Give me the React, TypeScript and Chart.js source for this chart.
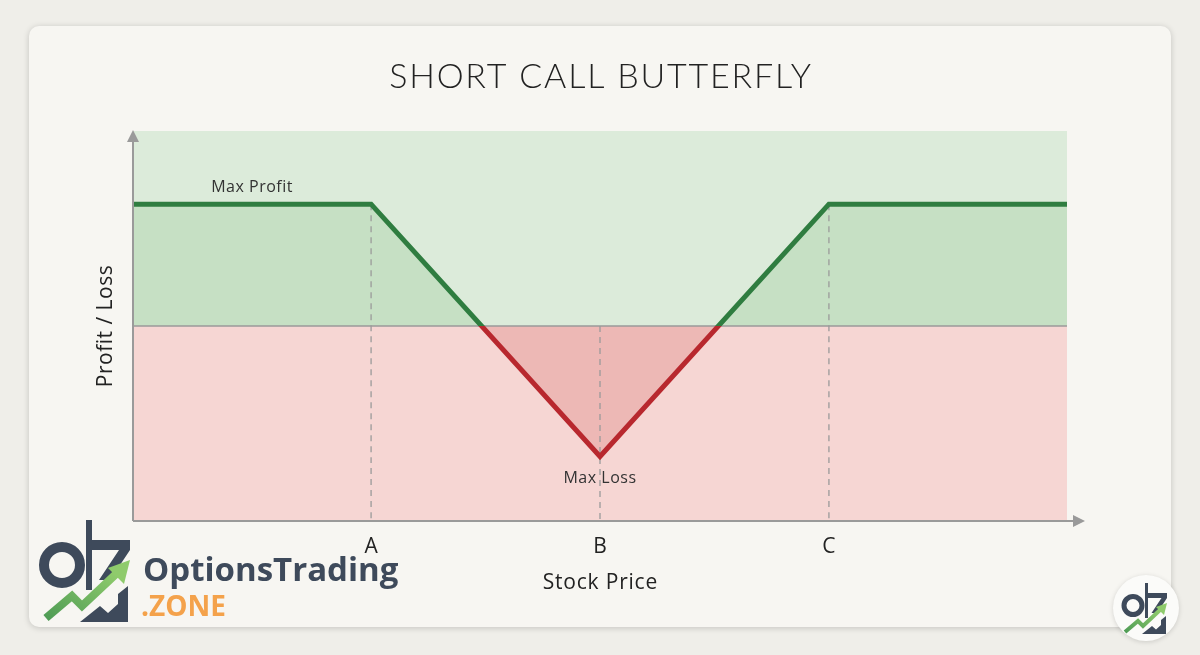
import React, { useEffect, useRef } from "react";
import { Chart, registerables } from "chart.js";

Chart.register(...registerables);

// ---- data ----
const strikeLabels = ["A", "B", "C"];
const strikes = [100, 200, 300];
const priceRange = [-4, 404];
const payoffPrices = [-4, 100, 200, 300, 404];
const payoffValues = [1, 1, -1.07, 1, 1];
const pnlRange = [-1.6, 1.6];
const maxProfit = 1;
const maxLoss = -1.07;

const chartTitle = "SHORT CALL BUTTERFLY";
const xAxisTitle = "Stock Price";
const yAxisTitle = "Profit / Loss";
const maxProfitLabel = "Max Profit";
const maxLossLabel = "Max Loss";

// ---- styles ----
const GREEN = "#2f7d40";
const RED = "#b8282e";
const BG_GREEN = "#dcebda";
const BG_PINK = "#f6d6d3";
const FILL_GREEN = "#c6e0c4";
const FILL_PINK = "#edb8b5";
const AXIS = "#9a9a9a";
const TEXT = "#222";
const FONT = "Lato, 'Open Sans', 'DejaVu Sans', sans-serif";
const FONT2 = "'Open Sans', Lato, 'DejaVu Sans', sans-serif";
const SLATE = "#3e4a5b";
const ORANGE = "#f4a24b";

const decorPlugin = {
  id: "decor",
  beforeDraw(chart: any) {
    const { ctx, chartArea: a, scales } = chart;
    const y0 = scales.y.getPixelForValue(0);
    ctx.save();
    ctx.fillStyle = BG_GREEN;
    ctx.fillRect(a.left, a.top, a.right - a.left, y0 - a.top);
    ctx.fillStyle = BG_PINK;
    ctx.fillRect(a.left, y0, a.right - a.left, a.bottom - y0);
    ctx.restore();
  },
  beforeDatasetsDraw(chart: any) {
    const { ctx, chartArea: a, scales } = chart;
    const x = scales.x, y = scales.y;
    const y0 = y.getPixelForValue(0);
    ctx.save();
    ctx.strokeStyle = AXIS;
    ctx.lineWidth = 1.5;
    ctx.beginPath();
    ctx.moveTo(a.left, y0);
    ctx.lineTo(a.right, y0);
    ctx.stroke();
    ctx.setLineDash([6, 5]);
    ctx.lineWidth = 1.3;
    strikes.forEach((s, i) => {
      const px = x.getPixelForValue(s);
      const top = i === 1 ? y0 : y.getPixelForValue(maxProfit);
      ctx.beginPath();
      ctx.moveTo(px, top);
      ctx.lineTo(px, a.bottom);
      ctx.stroke();
    });
    ctx.restore();
  },
  afterDatasetsDraw(chart: any) {
    const { ctx, chartArea: a, scales } = chart;
    const x = scales.x, y = scales.y;
    ctx.save();
    ctx.strokeStyle = AXIS;
    ctx.fillStyle = AXIS;
    ctx.lineWidth = 2;
    ctx.beginPath();
    ctx.moveTo(a.left, a.bottom);
    ctx.lineTo(a.left, a.top + 8);
    ctx.moveTo(a.left, a.bottom);
    ctx.lineTo(a.right + 10, a.bottom);
    ctx.stroke();
    ctx.beginPath();
    ctx.moveTo(a.left, a.top - 1);
    ctx.lineTo(a.left - 6, a.top + 11);
    ctx.lineTo(a.left + 6, a.top + 11);
    ctx.closePath();
    ctx.fill();
    ctx.beginPath();
    ctx.moveTo(a.right + 18, a.bottom);
    ctx.lineTo(a.right + 6, a.bottom - 6);
    ctx.lineTo(a.right + 6, a.bottom + 6);
    ctx.closePath();
    ctx.fill();

    ctx.fillStyle = TEXT;
    ctx.textAlign = "center";
    ctx.textBaseline = "alphabetic";
    ctx.font = `300 34px ${FONT}`;
    (ctx as any).letterSpacing = "1.8px";
    ctx.fillText(chartTitle, 601, 88);

    ctx.font = `400 21px ${FONT2}`;
    (ctx as any).letterSpacing = "0px";
    strikes.forEach((s, i) => {
      ctx.fillText(strikeLabels[i], x.getPixelForValue(s), a.bottom + 32);
    });
    (ctx as any).letterSpacing = "0.8px";
    ctx.fillText(xAxisTitle, x.getPixelForValue(strikes[1]) + 0.4, a.bottom + 68);

    (ctx as any).letterSpacing = "0.5px";
    ctx.save();
    ctx.translate(a.left - 21, (a.top + a.bottom) / 2);
    ctx.rotate(-Math.PI / 2);
    ctx.fillText(yAxisTitle, 0, 0);
    ctx.restore();

    ctx.font = `400 16px ${FONT2}`;
    ctx.fillStyle = "#333";
    ctx.fillText(maxProfitLabel, x.getPixelForValue(strikes[0]) - 119, y.getPixelForValue(maxProfit) - 12);
    ctx.fillText(maxLossLabel, x.getPixelForValue(strikes[1]), y.getPixelForValue(maxLoss) + 27);
    ctx.restore();
  },
};

function Icon({ x, y, s }: { x: number; y: number; s: number }) {
  return (
    <g transform={`translate(${x},${y}) scale(${s})`}>
      <defs>
        <linearGradient id={`ga${s}`} x1="0" y1="1" x2="1" y2="0">
          <stop offset="0" stopColor="#4f9c55" />
          <stop offset="1" stopColor="#8fcb6c" />
        </linearGradient>
      </defs>
      <rect x={48} y={2} width={6} height={70} fill={SLATE} />
      <circle cx={24} cy={47} r={18} fill="none" stroke={SLATE} strokeWidth={10} />
      <polygon points="54,22 92,22 92,32 72,62 61,62 81,32 54,32" fill={SLATE} />
      <polygon points="42,104 62,88 70,95 80,86 80,76 90,68 90,104" fill={SLATE} />
      <polyline points="8,100 34,78 44,88 78,56" fill="none" stroke={`url(#ga${s})`} strokeWidth={8} strokeLinejoin="miter" />
      <polygon points="92,42 86,66 70,50" fill="#8fcb6c" />
    </g>
  );
}

export default function App() {
  const ref = useRef<HTMLCanvasElement | null>(null);
  useEffect(() => {
    if (!ref.current) return;
    const chart = new Chart(ref.current, {
      type: "line",
      data: {
        datasets: [
          {
            data: payoffPrices.map((p, i) => ({ x: p, y: payoffValues[i] })),
            borderWidth: 5,
            pointRadius: 0,
            tension: 0,
            borderJoinStyle: "miter",
            borderCapStyle: "butt",
            borderColor: (ctx: any) => {
              const c = ctx.chart;
              const a = c.chartArea;
              if (!a) return GREEN;
              const y0 = c.scales.y.getPixelForValue(0);
              const g = c.ctx.createLinearGradient(0, a.top, 0, a.bottom);
              const s = Math.min(1, Math.max(0, (y0 - a.top) / (a.bottom - a.top)));
              g.addColorStop(0, GREEN);
              g.addColorStop(s, GREEN);
              g.addColorStop(s, RED);
              g.addColorStop(1, RED);
              return g;
            },
            fill: { target: { value: 0 }, above: FILL_GREEN, below: FILL_PINK },
          } as any,
        ],
      },
      options: {
        animation: false,
        responsive: false,
        devicePixelRatio: 1,
        layout: { padding: { left: 133, right: 133, top: 131, bottom: 134 } },
        scales: {
          x: { type: "linear", min: priceRange[0], max: priceRange[1], display: false },
          y: { type: "linear", min: pnlRange[0], max: pnlRange[1], display: false },
        },
        plugins: {
          legend: { display: false },
          tooltip: { enabled: false },
          filler: { drawTime: "beforeDatasetsDraw" },
        } as any,
      },
      plugins: [decorPlugin],
    });
    return () => chart.destroy();
  }, []);

  return (
    <div style={{ position: "fixed", left: 0, top: 0, width: 1200, height: 655, background: "#efeee9", overflow: "hidden" }}>
      <div
        style={{
          position: "absolute",
          left: 29,
          top: 26,
          width: 1142,
          height: 601,
          background: "#f7f6f2",
          borderRadius: 10,
          boxShadow: "0 1px 6px rgba(0,0,0,0.18)",
        }}
      />
      <canvas ref={ref} width={1200} height={655} style={{ position: "absolute", left: 0, top: 0 }} />
      <div
        style={{
          position: "absolute",
          left: 1113,
          top: 575,
          width: 66,
          height: 66,
          borderRadius: "50%",
          background: "#fbfbf9",
          boxShadow: "0 1px 5px rgba(0,0,0,0.15)",
        }}
      />
      <svg width={1200} height={655} style={{ position: "absolute", left: 0, top: 0 }}>
        <Icon x={38} y={518} s={1} />
        <Icon x={1121} y={582} s={0.5} />
        <text x={143} y={581} fontFamily={FONT2} fontWeight={700} fontSize={33} fill={SLATE}>
          OptionsTrading
        </text>
        <text x={141} y={616} fontFamily={FONT2} fontWeight={700} fontSize={28} fill={ORANGE}>
          .ZONE
        </text>
      </svg>
    </div>
  );
}
